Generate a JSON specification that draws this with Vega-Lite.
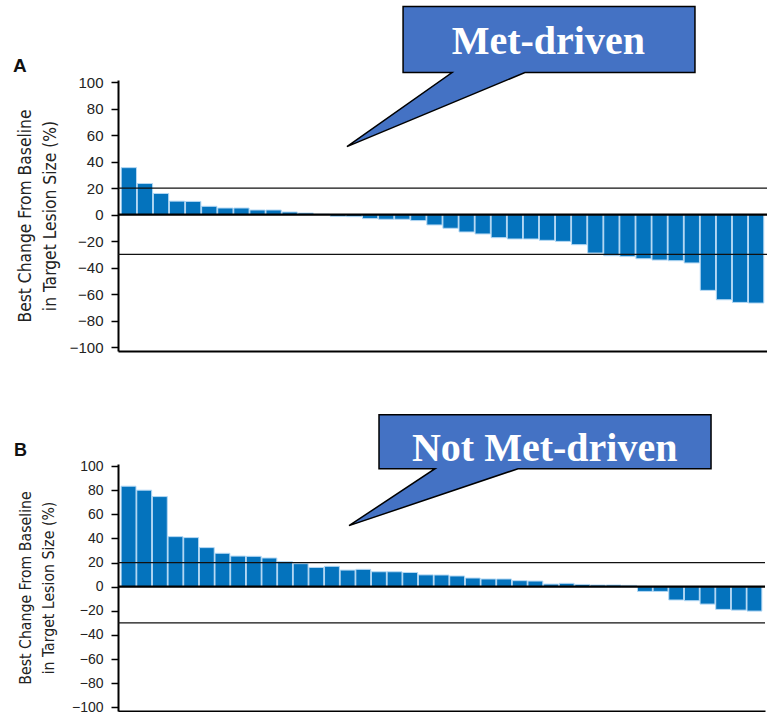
{
  "$schema": "https://vega.github.io/schema/vega-lite/v6.json",
  "background": "white",
  "padding": {"left": 13, "top": 3, "right": 0, "bottom": 0},
  "spacing": 55,
  "config": {"view": {"stroke": null}, "axis": {"labelOverlap": false}},
  "datasets": {
    "barsA": [
      {"rank": 1, "change": 35.5}, {"rank": 2, "change": 23.5}, {"rank": 3, "change": 16}, {"rank": 4, "change": 10.2},
      {"rank": 5, "change": 10}, {"rank": 6, "change": 6.3}, {"rank": 7, "change": 5}, {"rank": 8, "change": 5},
      {"rank": 9, "change": 3.5}, {"rank": 10, "change": 3.5}, {"rank": 11, "change": 2}, {"rank": 12, "change": 1.2},
      {"rank": 13, "change": 0.3}, {"rank": 14, "change": -1.3}, {"rank": 15, "change": -1.5}, {"rank": 16, "change": -3},
      {"rank": 17, "change": -3.5}, {"rank": 18, "change": -3.5}, {"rank": 19, "change": -4.5}, {"rank": 20, "change": -7.8},
      {"rank": 21, "change": -10.3}, {"rank": 22, "change": -13.1}, {"rank": 23, "change": -14.6}, {"rank": 24, "change": -17.4},
      {"rank": 25, "change": -18.4}, {"rank": 26, "change": -18.4}, {"rank": 27, "change": -19.4}, {"rank": 28, "change": -20.2},
      {"rank": 29, "change": -22.7}, {"rank": 30, "change": -29}, {"rank": 31, "change": -31}, {"rank": 32, "change": -31.7},
      {"rank": 33, "change": -33.3}, {"rank": 34, "change": -34.3}, {"rank": 35, "change": -34.8}, {"rank": 36, "change": -36.5},
      {"rank": 37, "change": -57.2}, {"rank": 38, "change": -64.3}, {"rank": 39, "change": -66.3}, {"rank": 40, "change": -66.8}
    ],
    "barsB": [
      {"rank": 1, "change": 83.3}, {"rank": 2, "change": 80}, {"rank": 3, "change": 74.7}, {"rank": 4, "change": 41.5},
      {"rank": 5, "change": 40.7}, {"rank": 6, "change": 32.4}, {"rank": 7, "change": 27.7}, {"rank": 8, "change": 25.4},
      {"rank": 9, "change": 25.2}, {"rank": 10, "change": 23.8}, {"rank": 11, "change": 20.7}, {"rank": 12, "change": 19.1},
      {"rank": 13, "change": 16}, {"rank": 14, "change": 16.9}, {"rank": 15, "change": 13.8}, {"rank": 16, "change": 14.4},
      {"rank": 17, "change": 12.4}, {"rank": 18, "change": 12.4}, {"rank": 19, "change": 11.8}, {"rank": 20, "change": 9.8},
      {"rank": 21, "change": 9.7}, {"rank": 22, "change": 8.9}, {"rank": 23, "change": 7.2}, {"rank": 24, "change": 6.4},
      {"rank": 25, "change": 6.4}, {"rank": 26, "change": 5}, {"rank": 27, "change": 4.7}, {"rank": 28, "change": 2.2},
      {"rank": 29, "change": 2.8}, {"rank": 30, "change": 1.9}, {"rank": 31, "change": 1.4}, {"rank": 32, "change": 1.4},
      {"rank": 33, "change": 1.1}, {"rank": 34, "change": -3.9}, {"rank": 35, "change": -3.9}, {"rank": 36, "change": -11},
      {"rank": 37, "change": -11.6}, {"rank": 38, "change": -14.4}, {"rank": 39, "change": -18.8}, {"rank": 40, "change": -19.4},
      {"rank": 41, "change": -20.2}
    ],
    "calloutA": [
      {"k": 1, "cx": 17.57, "change": 157.2}, {"k": 2, "cx": 35.56, "change": 157.2}, {"k": 3, "cx": 35.56, "change": 107.3},
      {"k": 4, "cx": 25.08, "change": 107.3}, {"k": 5, "cx": 14.11, "change": 51.4}, {"k": 6, "cx": 20.59, "change": 107.3},
      {"k": 7, "cx": 17.57, "change": 107.3}
    ],
    "calloutB": [
      {"k": 1, "cx": 16.54, "change": 142.5}, {"k": 2, "cx": 37.58, "change": 142.5}, {"k": 3, "cx": 37.58, "change": 97.8},
      {"k": 4, "cx": 25.35, "change": 97.8}, {"k": 5, "cx": 14.64, "change": 50.6}, {"k": 6, "cx": 20.09, "change": 97.8},
      {"k": 7, "cx": 16.54, "change": 97.8}
    ],
    "labelA": [{"label": "Met-driven", "cx": 26.52, "change": 121.6}],
    "labelB": [{"label": "Not Met-driven", "cx": 27.04, "change": 103.8}],
    "panelA": [{"label": "A", "cx": -6.47, "change": 107.5}],
    "panelB": [{"label": "B", "cx": -6.59, "change": 108}],
    "refs": [{"change": 20}, {"change": -30}],
    "zero": [{"change": 0}]
  },
  "vconcat": [
    {
      "width": 649,
      "height": 271,
      "resolve": {"scale": {"x": "independent"}, "axis": {"x": "independent"}},
      "encoding": {
        "y": {"field": "change", "type": "quantitative",
              "scale": {"domain": [-103, 101.7], "nice": false, "zero": false},
              "axis": {"values": [-100, -80, -60, -40, -20, 0, 20, 40, 60, 80, 100], "grid": false, "labelOverlap": false,
                       "title": ["Best Change From Baseline", "in Target Lesion Size (%)"],
                       "titleFont": "DejaVu Sans Condensed, Liberation Sans", "titleFontSize": 17.3, "titleFontWeight": "normal",
                       "titleColor": "#222", "titleLineHeight": 25, "titleX": -93, "titleBaseline": "middle",
                       "labelFont": "Liberation Sans", "labelFontSize": 15, "labelColor": "#222", "labelPadding": 8,
                       "tickSize": 7, "tickWidth": 1.5, "tickColor": "black", "domainColor": "black", "domainWidth": 2}}
      },
      "layer": [
        {
          "data": {"name": "barsA"},
          "mark": {"type": "bar", "color": "#0473BD", "stroke": "#b4d8f4", "strokeWidth": 1},
          "encoding": {
            "x": {"field": "rank", "type": "ordinal", "scale": {"paddingInner": 0.05, "paddingOuter": 0.2},
                  "axis": {"labels": false, "ticks": false, "title": null, "domainColor": "black", "domainWidth": 2}}
          }
        },
        {
          "data": {"name": "zero"},
          "mark": {"type": "rule", "color": "black", "strokeWidth": 2.2},
          "encoding": {}
        },
        {
          "data": {"name": "refs"},
          "mark": {"type": "rule", "color": "#111", "strokeWidth": 1.4},
          "encoding": {}
        },
        {
          "data": {"name": "calloutA"},
          "mark": {"type": "line", "interpolate": "linear-closed", "fill": "#4472C4", "stroke": "black", "strokeWidth": 1.5, "clip": false},
          "encoding": {
            "x": {"field": "cx", "type": "quantitative", "scale": {"domain": [0, 40], "nice": false, "zero": false}, "axis": null},
            "order": {"field": "k"}
          }
        },
        {
          "data": {"name": "labelA"},
          "mark": {"type": "text", "font": "Liberation Serif", "fontWeight": "bold", "fontSize": 40, "color": "white", "baseline": "alphabetic", "align": "center"},
          "encoding": {
            "x": {"field": "cx", "type": "quantitative", "scale": {"domain": [0, 40], "nice": false, "zero": false}, "axis": null},
            "text": {"field": "label"}
          }
        },
        {
          "data": {"name": "panelA"},
          "mark": {"type": "text", "font": "Liberation Sans", "fontWeight": "bold", "fontSize": 19, "color": "#111", "baseline": "alphabetic", "align": "left"},
          "encoding": {
            "x": {"field": "cx", "type": "quantitative", "scale": {"domain": [0, 40], "nice": false, "zero": false}, "axis": null},
            "text": {"field": "label"}
          }
        }
      ]
    },
    {
      "width": 647,
      "height": 247,
      "resolve": {"scale": {"x": "independent"}, "axis": {"x": "independent"}},
      "encoding": {
        "y": {"field": "change", "type": "quantitative",
              "scale": {"domain": [-103, 101.7], "nice": false, "zero": false},
              "axis": {"values": [-100, -80, -60, -40, -20, 0, 20, 40, 60, 80, 100], "grid": false, "labelOverlap": false,
                       "title": ["Best Change From Baseline", "in Target Lesion Size (%)"],
                       "titleFont": "DejaVu Sans Condensed, Liberation Sans", "titleFontSize": 15.7, "titleFontWeight": "normal",
                       "titleColor": "#222", "titleLineHeight": 23, "titleX": -93, "titleBaseline": "middle",
                       "labelFont": "Liberation Sans", "labelFontSize": 14, "labelColor": "#222", "labelPadding": 8,
                       "tickSize": 7, "tickWidth": 1.5, "tickColor": "black", "domainColor": "black", "domainWidth": 2}}
      },
      "layer": [
        {
          "data": {"name": "barsB"},
          "mark": {"type": "bar", "color": "#0473BD", "stroke": "#b4d8f4", "strokeWidth": 1},
          "encoding": {
            "x": {"field": "rank", "type": "ordinal", "scale": {"paddingInner": 0.05, "paddingOuter": 0.2},
                  "axis": {"labels": false, "ticks": false, "title": null, "domainColor": "black", "domainWidth": 2}}
          }
        },
        {
          "data": {"name": "zero"},
          "mark": {"type": "rule", "color": "black", "strokeWidth": 2.2},
          "encoding": {}
        },
        {
          "data": {"name": "refs"},
          "mark": {"type": "rule", "color": "#111", "strokeWidth": 1.4},
          "encoding": {}
        },
        {
          "data": {"name": "calloutB"},
          "mark": {"type": "line", "interpolate": "linear-closed", "fill": "#4472C4", "stroke": "black", "strokeWidth": 1.5, "clip": false},
          "encoding": {
            "x": {"field": "cx", "type": "quantitative", "scale": {"domain": [0, 41], "nice": false, "zero": false}, "axis": null},
            "order": {"field": "k"}
          }
        },
        {
          "data": {"name": "labelB"},
          "mark": {"type": "text", "font": "Liberation Serif", "fontWeight": "bold", "fontSize": 40, "color": "white", "baseline": "alphabetic", "align": "center"},
          "encoding": {
            "x": {"field": "cx", "type": "quantitative", "scale": {"domain": [0, 41], "nice": false, "zero": false}, "axis": null},
            "text": {"field": "label"}
          }
        },
        {
          "data": {"name": "panelB"},
          "mark": {"type": "text", "font": "Liberation Sans", "fontWeight": "bold", "fontSize": 18, "color": "#111", "baseline": "alphabetic", "align": "left"},
          "encoding": {
            "x": {"field": "cx", "type": "quantitative", "scale": {"domain": [0, 41], "nice": false, "zero": false}, "axis": null},
            "text": {"field": "label"}
          }
        }
      ]
    }
  ]
}
